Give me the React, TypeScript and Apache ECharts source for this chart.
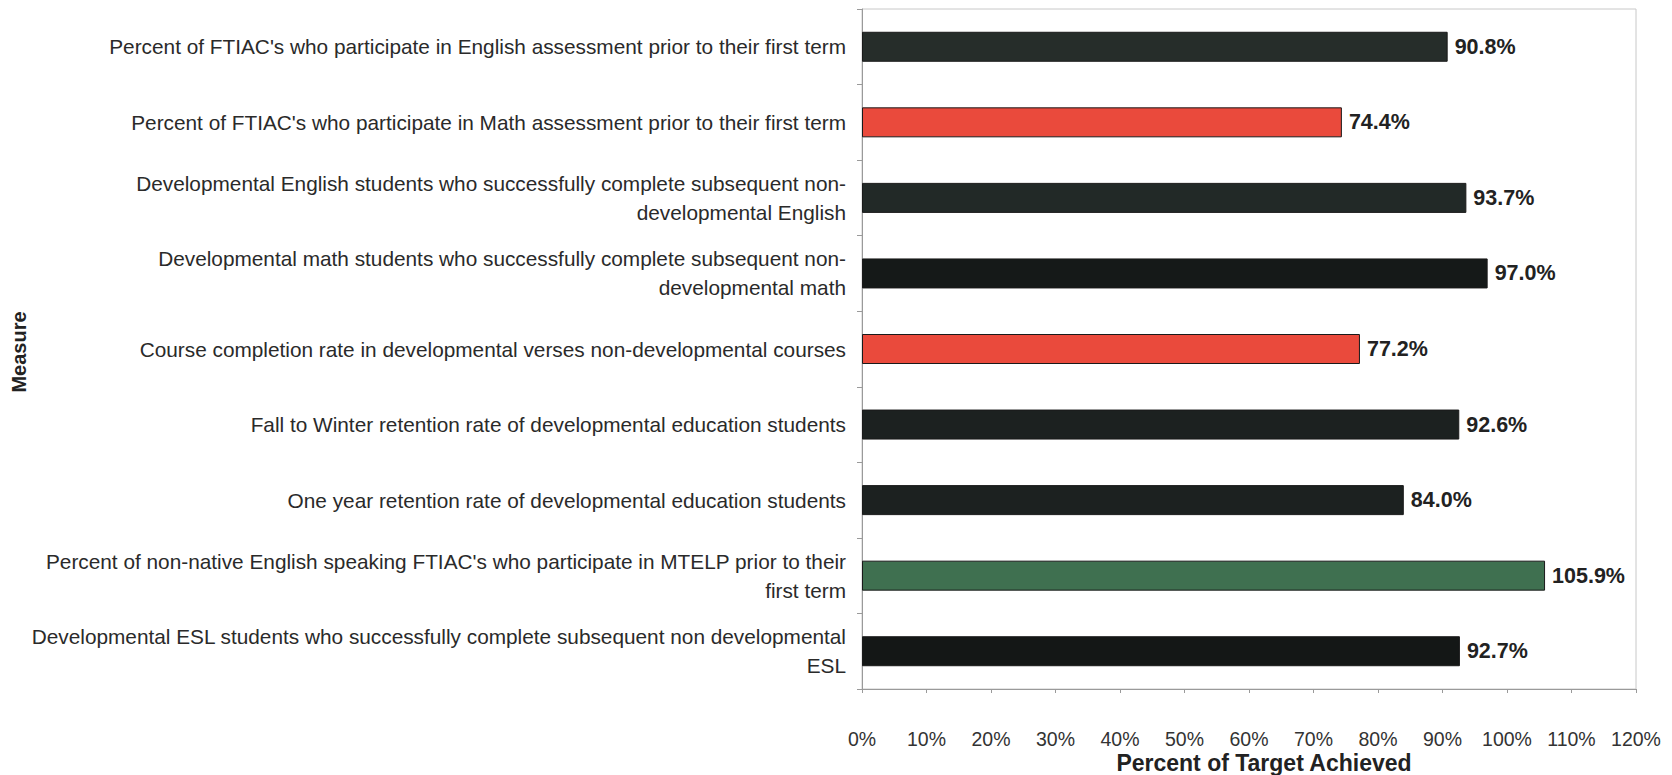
import React, { useEffect, useRef } from "react";
import * as echarts from "echarts";

const categories = [
  "Percent of FTIAC's who participate in English assessment prior to their first term",
  "Percent of FTIAC's who participate in Math assessment prior to their first term",
  "Developmental English students who successfully complete subsequent non-\ndevelopmental English",
  "Developmental math students who successfully complete subsequent non-\ndevelopmental math",
  "Course completion rate in developmental verses non-developmental courses",
  "Fall to Winter retention rate of developmental education students",
  "One year retention rate of developmental education students",
  "Percent of non-native English speaking FTIAC's who participate in MTELP prior to their\nfirst term",
  "Developmental ESL students who successfully complete subsequent non developmental\nESL",
];
const values = [90.8, 74.4, 93.7, 97.0, 77.2, 92.6, 84.0, 105.9, 92.7];
const barColors = ["#262d2a", "#ea4a3c", "#222927", "#151918", "#ea4a3c", "#1c2120", "#1c2120", "#3f7050", "#141716"];
const xTicks = { min: 0, max: 120, interval: 10 };
const xTitle = "Percent of Target Achieved";
const yTitle = "Measure";

const FONT = "'Liberation Sans', Arial, sans-serif";

export default function App() {
  const ref = useRef<HTMLDivElement>(null);
  useEffect(() => {
    document.body.style.margin = "0";
    const chart = echarts.init(ref.current!, null, { renderer: "svg" });
    chart.setOption({
      animation: false,
      backgroundColor: "#ffffff",
      grid: {
        left: 862,
        top: 9,
        width: 774,
        height: 680,
        show: true,
        borderColor: "#c8c8c8",
        borderWidth: 1,
        containLabel: false,
      },
      xAxis: {
        type: "value",
        min: xTicks.min,
        max: xTicks.max,
        interval: xTicks.interval,
        axisLine: { show: true, lineStyle: { color: "#9a9a9a" } },
        axisTick: { show: true, length: 4, lineStyle: { color: "#9a9a9a" } },
        splitLine: { show: false },
        axisLabel: {
          formatter: "{value}%",
          color: "#333",
          fontSize: 19.5,
          fontFamily: FONT,
          margin: 40,
        },
      },
      yAxis: {
        type: "category",
        inverse: true,
        data: categories,
        axisLine: { show: true, lineStyle: { color: "#9a9a9a" } },
        axisTick: { show: true, length: 5, interval: 0, lineStyle: { color: "#9a9a9a" } },
        axisLabel: {
          color: "#2a2a2a",
          fontSize: 20.8,
          fontFamily: FONT,
          lineHeight: 29,
          margin: 16,
          align: "right",
          interval: 0,
        },
      },
      series: [
        {
          type: "bar",
          data: values.map((v, i) => ({
            value: v,
            itemStyle: { color: barColors[i], borderColor: "#1a1a1a", borderWidth: 1 },
          })),
          barWidth: 30,
          label: {
            show: true,
            position: "right",
            distance: 7,
            formatter: (p: any) => p.value.toFixed(1) + "%",
            fontFamily: FONT,
            fontSize: 21.5,
            fontWeight: "bold",
            color: "#222",
          },
        },
      ],
      graphic: [
        {
          type: "text",
          x: 1264,
          y: 763,
          style: {
            text: xTitle,
            font: `bold 23px ${FONT}`,
            fill: "#222",
            align: "center",
            verticalAlign: "middle",
          },
        },
        {
          type: "text",
          x: 19,
          y: 352,
          rotation: Math.PI / 2,
          style: {
            text: yTitle,
            font: `bold 20px ${FONT}`,
            fill: "#222",
            align: "center",
            verticalAlign: "middle",
          },
        },
      ],
    });
    return () => chart.dispose();
  }, []);
  return <div ref={ref} style={{ width: 1672, height: 775 }} />;
}
